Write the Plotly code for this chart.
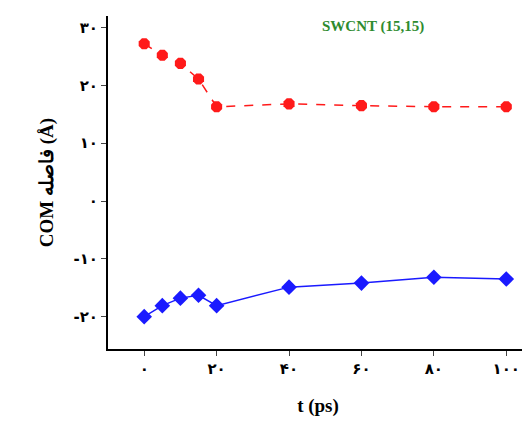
import plotly.graph_objects as go

t = [0, 5, 10, 15, 20, 40, 60, 80, 100]
red_y = [27.2, 25.2, 23.8, 21.1, 16.3, 16.8, 16.5, 16.3, 16.3]
blue_y = [-20.0, -18.1, -16.8, -16.3, -18.1, -14.9, -14.2, -13.2, -13.5]

x_ticks = [0, 20, 40, 60, 80, 100]
x_labels = ["۰", "۲۰", "۴۰", "۶۰", "۸۰", "۱۰۰"]
y_ticks = [-20, -10, 0, 10, 20, 30]
y_labels = ["-۲۰", "-۱۰", "۰", "۱۰", "۲۰", "۳۰"]

fig = go.Figure()
fig.add_trace(go.Scatter(
    x=t, y=red_y, mode="lines+markers",
    line=dict(color="#ff1a1a", width=1.5, dash="dash"),
    marker=dict(symbol="octagon", size=12, color="#ff1a1a")
))
fig.add_trace(go.Scatter(
    x=t, y=blue_y, mode="lines+markers",
    line=dict(color="#1a1aff", width=1.5),
    marker=dict(symbol="diamond", size=12, color="#1a1aff")
))

fig.add_annotation(
    x=0.63, y=1.0, xref="paper", yref="paper", showarrow=False,
    text="<b>SWCNT (15,15)</b>",
    font=dict(family="Liberation Serif", size=15, color="#2e8b2e")
)

axis_font = dict(family="Liberation Serif", size=16, color="black")
tick_font = dict(family="DejaVu Sans", size=15, color="black", weight="bold")
fig.update_layout(
    width=530, height=421,
    plot_bgcolor="white", paper_bgcolor="white",
    showlegend=False,
    margin=dict(l=100, r=10, t=8, b=80),
    font=axis_font,
    xaxis=dict(
        range=[-10, 106], tickvals=x_ticks, ticktext=x_labels,
        showline=True, linecolor="black", linewidth=2, showgrid=False,
        zeroline=False, ticks="outside", ticklen=5,
        title=dict(text="<b>t (ps)</b>", standoff=22),
        tickfont=tick_font
    ),
    yaxis=dict(
        range=[-25.6, 32], tickvals=y_ticks, ticktext=y_labels,
        showline=True, linecolor="black", linewidth=2, showgrid=False,
        zeroline=False, ticks="outside", ticklen=5,
        title=dict(text="<b>COM فاصله (Å)</b>", standoff=15),
        tickfont=tick_font
    ),
)

fig.write_html("out.html")
